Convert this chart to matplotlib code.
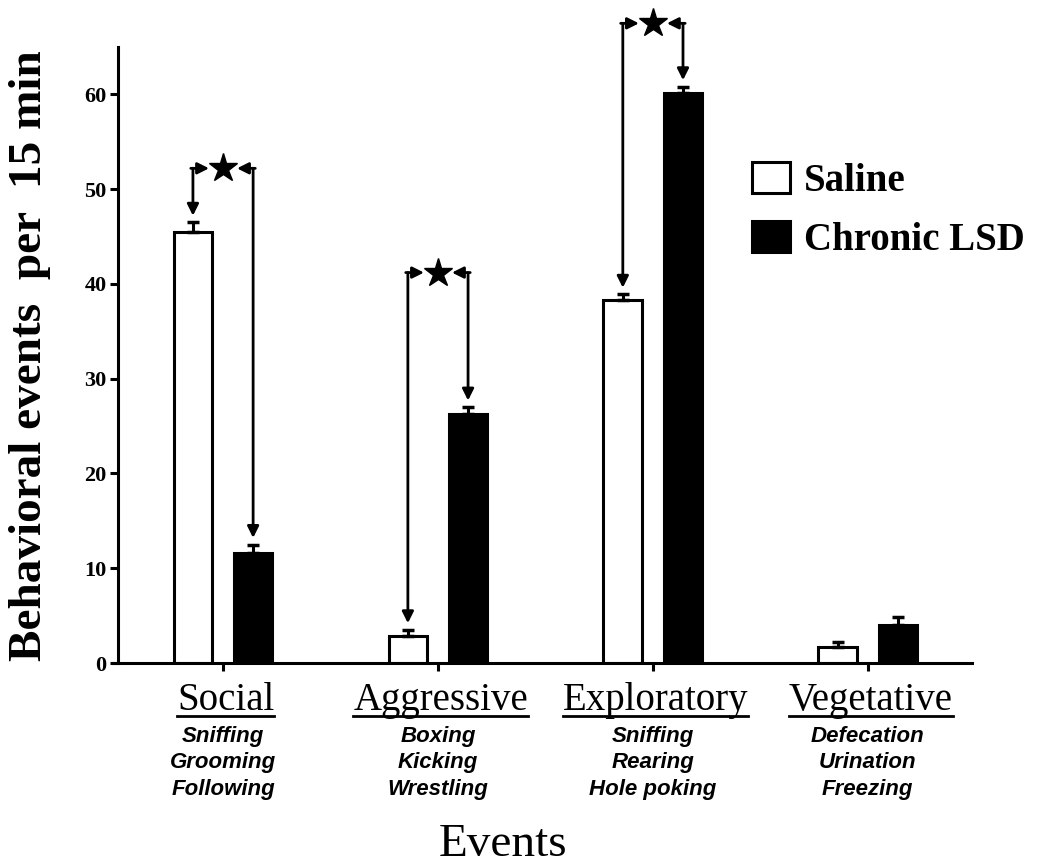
import numpy as np
import matplotlib.pyplot as plt
from matplotlib.lines import Line2D

# data
categories = ['Social', 'Aggressive', 'Exploratory', 'Vegetative']
behaviours = ['Sniffing\nGrooming\nFollowing',
              'Boxing\nKicking\nWrestling',
              'Sniffing\nRearing\nHole poking',
              'Defecation\nUrination\nFreezing']
saline = [45.5, 2.9, 38.3, 1.7]
saline_err = [1.0, 0.6, 0.6, 0.5]
lsd = [11.6, 26.3, 60.1, 4.0]
lsd_err = [0.9, 0.7, 0.7, 0.9]
sig_groups = [0, 1, 2]
sig_heights = [52.2, 41.2, 67.5]
yticks = [0, 10, 20, 30, 40, 50, 60]

serif = ['Liberation Serif', 'DejaVu Serif']
narrow = ['Liberation Sans Narrow', 'Liberation Sans', 'DejaVu Sans']

fig = plt.figure(figsize=(10.5, 8.66), dpi=100)
ax = fig.add_axes([0.1076, 0.2344, 0.818, 0.7113])

x = np.arange(len(categories))
off = 0.14
w = 0.18
lw = 2.2

b1 = ax.bar(x - off, saline, w, color='white', edgecolor='black', linewidth=lw, zorder=2)
b2 = ax.bar(x + off, lsd, w, color='black', edgecolor='black', linewidth=lw, zorder=2)
ax.errorbar(x - off, saline, yerr=[np.zeros(len(x)), saline_err], fmt='none',
            ecolor='black', elinewidth=lw, capsize=4.3, capthick=2.5, zorder=3)
ax.errorbar(x + off, lsd, yerr=[np.zeros(len(x)), lsd_err], fmt='none',
            ecolor='black', elinewidth=lw, capsize=4.3, capthick=2.5, zorder=3)

# significance brackets: arrows from star to each bar
ap = dict(arrowstyle='-|>', color='black', lw=2, mutation_scale=17, shrinkA=0, shrinkB=0)
for g, h in zip(sig_groups, sig_heights):
    xs, xl = x[g] - off, x[g] + off
    ax.plot(x[g], h, marker='*', ms=21, color='black', clip_on=False, zorder=4)
    ax.annotate('', xy=(xs, saline[g] + saline_err[g] + 0.7), xytext=(xs, h),
                arrowprops=ap, annotation_clip=False)
    ax.annotate('', xy=(x[g] - 0.065, h), xytext=(xs - 0.01, h),
                arrowprops=ap, annotation_clip=False)
    ax.annotate('', xy=(xl, lsd[g] + lsd_err[g] + 0.7), xytext=(xl, h),
                arrowprops=ap, annotation_clip=False)
    ax.annotate('', xy=(x[g] + 0.065, h), xytext=(xl + 0.01, h),
                arrowprops=ap, annotation_clip=False)

ax.set_xlim(-0.512, 3.484)
ax.set_ylim(0, 65)
ax.spines['top'].set_visible(False)
ax.spines['right'].set_visible(False)
ax.spines['left'].set_position(('data', -0.49))
ax.spines['left'].set_linewidth(lw)
ax.spines['bottom'].set_linewidth(lw)

ax.set_yticks(yticks)
ax.set_yticklabels([str(t) for t in yticks], fontfamily=serif, fontweight='bold')
ax.tick_params(axis='y', direction='out', length=6, width=lw, labelsize=16, pad=2)
ax.set_xticks(x)
ax.set_xticklabels([''] * len(x))
ax.tick_params(axis='x', direction='out', length=6, width=lw)

# category names (underlined) and behaviour lists
name_texts = []
for i, (name, beh) in enumerate(zip(categories, behaviours)):
    t = ax.annotate(name, xy=(x[i], 0), xycoords=('data', 'axes fraction'),
                    xytext=(2, -34), textcoords='offset points', ha='center',
                    va='baseline', fontsize=28, fontfamily=serif)
    name_texts.append(t)
    ax.annotate(beh, xy=(x[i], 0), xycoords=('data', 'axes fraction'),
                xytext=(0, -45), textcoords='offset points', ha='center',
                va='top', fontsize=16, fontfamily=narrow, fontweight='bold',
                fontstyle='italic', linespacing=1.36)

fig.text(0.029, 0.589, 'Behavioral events  per  15 min', rotation=90, ha='center',
         va='center', fontsize=34, fontweight='bold', fontfamily=serif)
fig.text(0.479, 0.011, 'Events', ha='center', va='baseline', fontsize=34,
         fontfamily=serif)

fig.legend([b1, b2], ['Saline', 'Chronic LSD'], loc='upper left',
           bbox_to_anchor=(0.698, 0.835), frameon=False, borderpad=0,
           handlelength=0.97, handleheight=0.82, handletextpad=0.35,
           labelspacing=0.55, prop=dict(family=serif, weight='bold', size=28))

# underline the category names
fig.canvas.draw()
renderer = fig.canvas.get_renderer()
y0 = ax.transAxes.transform((0, 0))[1]
inv = fig.transFigure.inverted()
for t in name_texts:
    bb = t.get_window_extent(renderer)
    yl = y0 - 34 * fig.dpi / 72 - 6
    p0 = inv.transform((bb.x0, yl))
    p1 = inv.transform((bb.x1, yl))
    fig.add_artist(Line2D([p0[0], p1[0]], [p0[1], p1[1]], color='black', lw=2,
                          transform=fig.transFigure))

fig.savefig('out.png', dpi=100)
